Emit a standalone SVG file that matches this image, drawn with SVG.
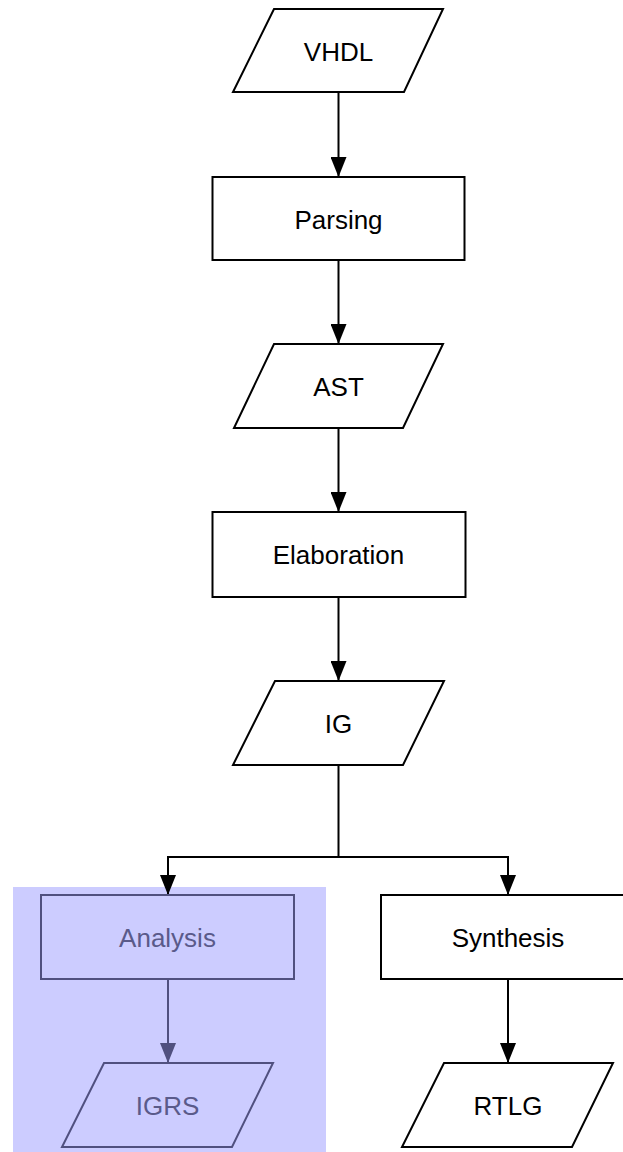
<svg xmlns="http://www.w3.org/2000/svg" width="623" height="1152" viewBox="0 0 623 1152">
<style>
.n{fill:#ffffff;stroke:#000000;stroke-width:2;stroke-linejoin:miter}
.h{fill:none;stroke:#50507f;stroke-width:2}
.t{font-family:"Liberation Sans",Arial,sans-serif;font-size:26px;fill:#000000;text-anchor:middle}
.th{fill:#5a5a8a}
.c{fill:none;stroke:#000000;stroke-width:2}
.ch{fill:none;stroke:#50507f;stroke-width:2}
</style>
<defs>
<marker id="arr" markerWidth="20" markerHeight="16" viewBox="0 0 20 16" refX="20" refY="8" orient="auto" markerUnits="userSpaceOnUse"><path d="M0,0 L20,8 L0,16 z" fill="#000000"/></marker>
<marker id="arrh" markerWidth="20" markerHeight="16" viewBox="0 0 20 16" refX="20" refY="8" orient="auto" markerUnits="userSpaceOnUse"><path d="M0,0 L20,8 L0,16 z" fill="#50507f"/></marker>
</defs>
<rect x="0" y="0" width="623" height="1152" fill="#ffffff"/>
<rect id="highlight" x="13" y="887" width="313" height="265" fill="#ccccff"/>
<g id="connectors">
<path class="c" d="M338.5,92 V177" marker-end="url(#arr)"/>
<path class="c" d="M338.5,260 V344" marker-end="url(#arr)"/>
<path class="c" d="M338.5,428 V512" marker-end="url(#arr)"/>
<path class="c" d="M338.5,597 V681" marker-end="url(#arr)"/>
<path class="c" d="M338.5,765 V857 H168 V895" marker-end="url(#arr)"/>
<path class="c" d="M338.5,857 H508 V895" marker-end="url(#arr)"/>
<path class="ch" d="M168,979 V1063" marker-end="url(#arrh)"/>
<path class="c" d="M508,979 V1063" marker-end="url(#arr)"/>
</g>
<g id="VHDL"><polygon class="n" points="274,9 443,9 404,92 233,92"/><text class="t" x="338.5" y="61">VHDL</text></g>
<g id="Parsing"><rect class="n" x="212.5" y="177" width="252" height="83"/><text class="t" x="338.5" y="229">Parsing</text></g>
<g id="AST"><polygon class="n" points="274,344 443,344 403,428 234,428"/><text class="t" x="338.5" y="396">AST</text></g>
<g id="Elaboration"><rect class="n" x="212.5" y="512" width="253" height="85"/><text class="t" x="338.5" y="564">Elaboration</text></g>
<g id="IG"><polygon class="n" points="275,681 444,681 403,765 233,765"/><text class="t" x="338.5" y="733">IG</text></g>
<g id="Analysis"><rect class="h" x="41" y="895" width="253" height="84"/><text class="t th" x="167.5" y="947">Analysis</text></g>
<g id="IGRS"><polygon class="h" points="104,1063 273,1063 232,1147 62,1147"/><text class="t th" x="167.5" y="1115">IGRS</text></g>
<g id="Synthesis"><rect class="n" x="381" y="895" width="254" height="84"/><text class="t" x="508" y="947">Synthesis</text></g>
<g id="RTLG"><polygon class="n" points="444,1063 613,1063 572,1147 402,1147"/><text class="t" x="508" y="1115">RTLG</text></g>
</svg>
